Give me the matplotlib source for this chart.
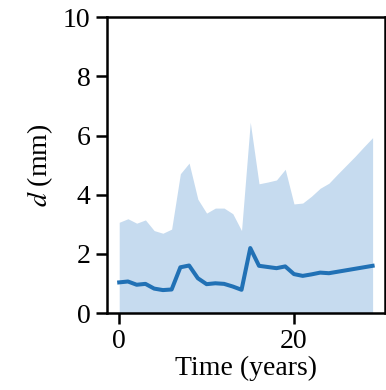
import numpy as np
import matplotlib
matplotlib.use("Agg")
import matplotlib.pyplot as plt

plt.rcParams['font.family'] = ['Liberation Serif', 'DejaVu Serif']
plt.rcParams['mathtext.fontset'] = 'stix'

# yearly displacement: median and upper envelope
years = np.arange(0, 30)
d_median = [1.04, 1.07, 0.96, 0.99, 0.83, 0.78, 0.80, 1.55, 1.61, 1.18,
            0.98, 1.01, 0.99, 0.90, 0.79, 2.20, 1.60, 1.56, 1.52, 1.58,
            1.32, 1.26, 1.31, 1.37, 1.35, 1.40, 1.45, 1.50, 1.55, 1.60]
d_upper = [3.07, 3.19, 3.04, 3.15, 2.79, 2.70, 2.84, 4.71, 5.07, 3.85,
           3.38, 3.55, 3.55, 3.36, 2.79, 6.45, 4.37, 4.43, 4.50, 4.86,
           3.69, 3.72, 3.95, 4.22, 4.39, 4.70, 5.00, 5.30, 5.62, 5.93]

fig = plt.figure(figsize=(3.86, 3.90), dpi=100)
ax = fig.add_axes([0.276, 0.197, 0.721, 0.759])

ax.fill_between(years, 0, d_upper, color='#c6dbef', lw=0)
ax.plot(years, d_median, color='#2171b5', lw=2.9)

ax.set_xlim(-1.45, 30.4)
ax.set_ylim(0, 10)
ax.set_xticks([0, 20])
ax.set_yticks([0, 2, 4, 6, 8, 10])
ax.set_xlabel('Time (years)', fontsize=20, labelpad=1)
ax.set_ylabel('$d$ (mm)', fontsize=20, labelpad=6)
ax.tick_params(labelsize=20, length=8, width=1.8)
for sp in ax.spines.values():
    sp.set_linewidth(1.8)

fig.savefig('out.png', dpi=100)
